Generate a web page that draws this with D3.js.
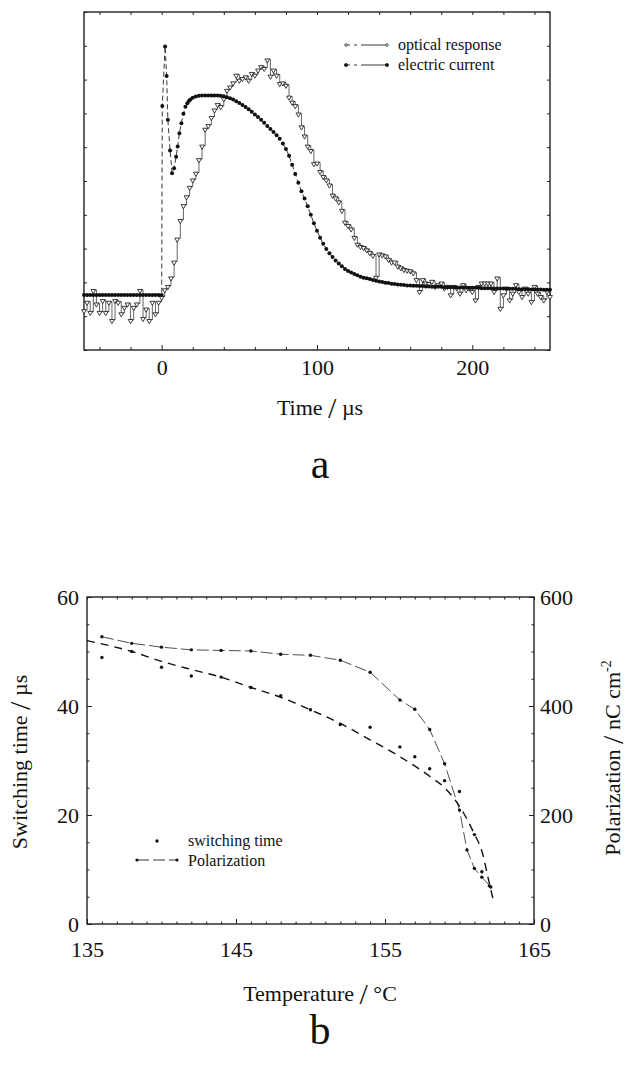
<!DOCTYPE html>
<html>
<head>
<meta charset="utf-8">
<script src="https://cdn.jsdelivr.net/npm/d3@7"></script>
<style>
body { margin: 0; background: #fff; }
text { font-family: "Liberation Serif", "DejaVu Serif", serif; fill: #111; }
</style>
</head>
<body>
<div id="chart"></div>
<script>
// ---- panel a : time response (arbitrary units) ----
var electricCurrent = [
  [-50,0.163],[-48,0.163],[-46,0.163],[-44,0.163],[-42,0.163],[-40,0.163],[-38,0.163],[-36,0.163],
  [-34,0.163],[-32,0.163],[-30,0.163],[-28,0.163],[-26,0.163],[-24,0.163],[-22,0.163],[-20,0.163],
  [-18,0.163],[-16,0.163],[-14,0.163],[-12,0.163],[-10,0.163],[-8,0.163],[-6,0.163],[-4,0.163],
  [-2,0.163],[0,0.163],[0.4,0.722],[2.2,0.898],[3.2,0.811],[4,0.681],[5.4,0.590],[6.7,0.523],
  [8,0.538],[9.3,0.572],[10.3,0.602],[11.4,0.641],[12.7,0.671],[14,0.699],[15.3,0.720],[16.5,0.730],
  [17.5,0.737],[18.5,0.741],[20,0.746],[22,0.750],[24,0.752],[26,0.753],[28,0.753],[30,0.753],
  [32,0.753],[34,0.753],[36,0.753],[38,0.752],[40,0.751],[42,0.748],[44,0.745],[46,0.741],
  [48,0.736],[50,0.731],[52,0.725],[54,0.719],[56,0.712],[58,0.705],[60,0.697],[62,0.689],
  [64,0.681],[66,0.672],[68,0.663],[70,0.654],[72,0.645],[74,0.635],[76,0.625],[78,0.611],
  [80,0.595],[82,0.575],[84,0.548],[86,0.521],[88,0.495],[90,0.470],[92,0.448],[94,0.425],
  [96,0.400],[98,0.375],[100,0.353],[102,0.332],[104,0.314],[106,0.299],[108,0.286],[110,0.275],
  [112,0.265],[114,0.256],[116,0.248],[118,0.240],[120,0.234],[122,0.229],[124,0.225],[126,0.221],
  [128,0.217],[130,0.214],[132,0.212],[134,0.210],[136,0.207],[138,0.205],[140,0.203],[142,0.201],
  [144,0.199],[146,0.198],[148,0.196],[150,0.195],[152,0.194],[154,0.193],[156,0.192],[158,0.191],
  [160,0.191],[162,0.190],[164,0.190],[166,0.189],[168,0.189],[170,0.188],[172,0.188],[174,0.187],
  [176,0.187],[178,0.187],[180,0.187],[182,0.186],[184,0.186],[186,0.186],[188,0.186],[190,0.185],
  [192,0.185],[194,0.185],[196,0.185],[198,0.184],[200,0.184],[202,0.184],[204,0.184],[206,0.183],
  [208,0.183],[210,0.183],[212,0.183],[214,0.182],[216,0.182],[218,0.182],[220,0.182],[222,0.181],
  [224,0.181],[226,0.181],[228,0.181],[230,0.180],[232,0.180],[234,0.180],[236,0.180],[238,0.179],
  [240,0.179],[242,0.179],[244,0.179],[246,0.178],[248,0.178],[250,0.178]
];

var opticalResponse = [
  [-50,0.118],[-48,0.143],[-46,0.113],[-44,0.178],[-42,0.138],[-40,0.113],[-38,0.148],[-36,0.113],
  [-34,0.143],[-32,0.089],[-30,0.148],[-28,0.143],[-26,0.109],[-24,0.128],[-22,0.138],[-20,0.089],
  [-18,0.128],[-16,0.138],[-14,0.178],[-12,0.095],[-10,0.123],[-8,0.089],[-6,0.143],[-4,0.109],
  [-2,0.143],[0,0.158],[2,0.180],[4,0.190],[6,0.215],[8,0.262],[10,0.330],[12,0.385],
  [14,0.429],[16,0.455],[18,0.483],[20,0.505],[22,0.525],[24,0.565],[26,0.605],[28,0.655],
  [30,0.666],[32,0.690],[34,0.712],[36,0.728],[38,0.722],[40,0.745],[42,0.770],[44,0.780],
  [46,0.792],[48,0.815],[50,0.800],[52,0.805],[54,0.810],[56,0.800],[58,0.820],[60,0.815],
  [62,0.830],[64,0.840],[66,0.835],[68,0.860],[70,0.812],[72,0.830],[74,0.815],[76,0.790],
  [78,0.792],[80,0.785],[82,0.750],[84,0.735],[86,0.725],[88,0.700],[90,0.662],[92,0.635],
  [94,0.605],[96,0.592],[98,0.553],[100,0.555],[102,0.530],[104,0.515],[106,0.505],[108,0.490],
  [110,0.460],[112,0.452],[114,0.440],[116,0.415],[118,0.380],[120,0.370],[122,0.360],[124,0.335],
  [126,0.315],[128,0.308],[130,0.305],[132,0.298],[134,0.290],[136,0.282],[138,0.217],[140,0.286],
  [142,0.283],[144,0.280],[146,0.270],[148,0.262],[150,0.262],[152,0.250],[154,0.245],[156,0.240],
  [158,0.238],[160,0.236],[162,0.230],[164,0.210],[166,0.175],[168,0.210],[170,0.200],[172,0.198],
  [174,0.205],[176,0.190],[178,0.195],[180,0.200],[182,0.185],[184,0.190],[186,0.165],[188,0.190],
  [190,0.185],[192,0.170],[194,0.195],[196,0.180],[198,0.185],[200,0.175],[202,0.150],[204,0.190],
  [206,0.200],[208,0.200],[210,0.200],[212,0.200],[214,0.175],[216,0.215],[218,0.125],[220,0.165],
  [222,0.185],[224,0.150],[226,0.170],[228,0.195],[230,0.175],[232,0.160],[234,0.185],[236,0.170],
  [238,0.145],[240,0.190],[242,0.170],[244,0.160],[246,0.150],[248,0.175],[250,0.160]
];

var timeTicks = [0, 100, 200];
var timeMinorTicks = [-40, -20, 20, 40, 60, 80, 120, 140, 160, 180, 220, 240];

// ---- panel b : temperature dependence ----
var polarization = [
  [136,527],[138,515],[140,508],[142,503],[144,502],[146,501],[148,495],[150,493],[152,484],
  [154,462],[156,411],[157,394],[158,357],[159,294],[160,209],[160.5,136],[161,102],[161.5,86],[162.1,68]
];
var switchingTime = [
  [136,48.9],[138,50.0],[140,47.1],[142,45.5],[144,45.3],[146,43.4],[148,41.9],[150,39.3],[152,36.6],
  [154,36.1],[156,32.5],[157,30.7],[158,28.5],[159,26.3],[160,24.3],[161,16.4],[161.5,9.6],[162,7.0]
];
var switchingFit = [
  [135,52.0],[138,50.0],[140,48.2],[142,46.7],[144,45.3],[146,43.4],[148,41.6],[150,39.3],[152,36.8],
  [154,33.8],[156,30.7],[158,27.1],[159,25.0],[160,21.6],[161,16.5],[161.5,13.4],[162,7.5],[162.3,4.0]
];
var tempTicks = [135, 145, 155, 165];
var switchTicks = [0, 20, 40, 60];
var polTicks = [0, 200, 400, 600];

var svg = d3.select("#chart").append("svg")
    .attr("width", 638)
    .attr("height", 1084);

function styleAxis(g, size) {
  g.select(".domain").remove();
  g.selectAll("line").attr("stroke", "#222");
  g.selectAll("text")
    .attr("font-family", "Liberation Serif, serif")
    .attr("font-size", size)
    .attr("fill", "#111");
}

function frame(x0, y0, x1, y1) {
  svg.append("rect")
    .attr("x", x0).attr("y", y0)
    .attr("width", x1 - x0).attr("height", y1 - y0)
    .attr("fill", "none")
    .attr("stroke", "#222")
    .attr("stroke-width", 1.4);
}

// axis title with the tall slash used in the figure
function slashTitle(sel, before, after) {
  sel.append("tspan").text(before + " ");
  sel.append("tspan").attr("font-size", 30).attr("dy", 3).text("/");
  return sel.append("tspan").attr("dy", -3).text(" " + after);
}

// =============== panel a ===============
var xA = d3.scaleLinear().domain([-50, 250]).range([84, 550]);
var yA = d3.scaleLinear().domain([0, 1]).range([350, 12]);

svg.append("g").attr("transform", "translate(0,350)")
  .call(d3.axisBottom(xA).tickValues(timeTicks).tickSize(-5).tickPadding(9).tickFormat(d3.format("d")))
  .call(styleAxis, 22);
svg.append("g").attr("transform", "translate(0,350)")
  .call(d3.axisBottom(xA).tickValues(timeMinorTicks).tickSize(-3).tickFormat(""))
  .call(styleAxis, 10);
svg.append("g").attr("transform", "translate(0,12)")
  .call(d3.axisTop(xA).tickValues(timeTicks.concat(timeMinorTicks)).tickSize(-3).tickFormat(""))
  .call(styleAxis, 10);
svg.append("g").attr("transform", "translate(84,0)")
  .call(d3.axisLeft(yA).ticks(10).tickSize(-3).tickFormat(""))
  .call(styleAxis, 10);
svg.append("g").attr("transform", "translate(550,0)")
  .call(d3.axisRight(yA).ticks(10).tickSize(-3).tickFormat(""))
  .call(styleAxis, 10);

frame(84, 12, 550, 350);

var lineA = d3.line().x(function(d){ return xA(d[0]); }).y(function(d){ return yA(d[1]); });

// optical response: thin stepped trace with small open triangles
svg.append("path")
  .datum(opticalResponse)
  .attr("d", lineA.curve(d3.curveStepAfter))
  .attr("fill", "none")
  .attr("stroke", "#222")
  .attr("stroke-width", 0.7);

var tri = d3.symbol().type(d3.symbolTriangle).size(10);
svg.append("g").selectAll("path")
  .data(opticalResponse)
  .join("path")
  .attr("d", tri)
  .attr("transform", function(d){ return "translate(" + xA(d[0]) + "," + (yA(d[1]) + 1) + ") rotate(180)"; })
  .attr("fill", "#fff")
  .attr("stroke", "#111")
  .attr("stroke-width", 0.8);

// electric current: dense filled dots
svg.append("path")
  .datum(electricCurrent)
  .attr("d", lineA.curve(d3.curveLinear))
  .attr("fill", "none")
  .attr("stroke", "#222")
  .attr("stroke-width", 0.9)
  .attr("stroke-dasharray", "5,3");

svg.append("g").selectAll("circle")
  .data(electricCurrent)
  .join("circle")
  .attr("cx", function(d){ return xA(d[0]); })
  .attr("cy", function(d){ return yA(d[1]); })
  .attr("r", 2)
  .attr("fill", "#111");

// legend a
var legA = svg.append("g").attr("transform", "translate(346,0)");
[["optical response", 50], ["electric current", 70]].forEach(function(item, i) {
  legA.append("line")
    .attr("x1", 0).attr("x2", 41).attr("y1", item[1] - 5).attr("y2", item[1] - 5)
    .attr("stroke", "#222").attr("stroke-width", 0.9)
    .attr("stroke-dasharray", "4,4,3,4,26");
  legA.append("circle").attr("cx", 0).attr("cy", item[1] - 5).attr("r", i ? 1.6 : 1.3)
    .attr("fill", i ? "#111" : "#fff").attr("stroke", "#111").attr("stroke-width", 0.7);
  legA.append("circle").attr("cx", 41).attr("cy", item[1] - 5).attr("r", i ? 1.6 : 1.3)
    .attr("fill", i ? "#111" : "#fff").attr("stroke", "#111").attr("stroke-width", 0.7);
  legA.append("text")
    .attr("x", 52).attr("y", item[1])
    .attr("font-size", 16)
    .text(item[0]);
});

slashTitle(svg.append("text")
  .attr("x", 320).attr("y", 415)
  .attr("text-anchor", "middle")
  .attr("font-size", 22), "Time", "\u00b5s");

svg.append("text")
  .attr("x", 320).attr("y", 478)
  .attr("text-anchor", "middle")
  .attr("font-size", 42)
  .text("a");

// =============== panel b ===============
var xB = d3.scaleLinear().domain([135, 165]).range([87, 534]);
var yB = d3.scaleLinear().domain([0, 60]).range([924, 597]);
var yP = d3.scaleLinear().domain([0, 600]).range([924, 597]);

svg.append("g").attr("transform", "translate(0,924)")
  .call(d3.axisBottom(xB).tickValues(tempTicks).tickSize(-5).tickPadding(17).tickFormat(d3.format("d")))
  .call(styleAxis, 22);
svg.append("g").attr("transform", "translate(0,924)")
  .call(d3.axisBottom(xB).ticks(30).tickSize(-2.5).tickFormat(""))
  .call(styleAxis, 10);
svg.append("g").attr("transform", "translate(0,597)")
  .call(d3.axisTop(xB).ticks(30).tickSize(-2.5).tickFormat(""))
  .call(styleAxis, 10);
svg.append("g").attr("transform", "translate(87,0)")
  .call(d3.axisLeft(yB).tickValues(switchTicks).tickSize(-5).tickPadding(8).tickFormat(d3.format("d")))
  .call(styleAxis, 22);
svg.append("g").attr("transform", "translate(87,0)")
  .call(d3.axisLeft(yB).ticks(12).tickSize(-2.5).tickFormat(""))
  .call(styleAxis, 10);
svg.append("g").attr("transform", "translate(534,0)")
  .call(d3.axisRight(yP).tickValues(polTicks).tickSize(-5).tickPadding(6).tickFormat(d3.format("d")))
  .call(styleAxis, 22);
svg.append("g").attr("transform", "translate(534,0)")
  .call(d3.axisRight(yP).ticks(12).tickSize(-2.5).tickFormat(""))
  .call(styleAxis, 10);

frame(87, 597, 534, 924);

// fitted switching time (heavy dashes)
svg.append("path")
  .datum(switchingFit)
  .attr("d", d3.line().curve(d3.curveMonotoneX)
    .x(function(d){ return xB(d[0]); }).y(function(d){ return yB(d[1]); }))
  .attr("fill", "none")
  .attr("stroke", "#111")
  .attr("stroke-width", 1.4)
  .attr("stroke-dasharray", "8,6");

// polarization
svg.append("path")
  .datum(polarization)
  .attr("d", d3.line()
    .x(function(d){ return xB(d[0]); }).y(function(d){ return yP(d[1]); }))
  .attr("fill", "none")
  .attr("stroke", "#222")
  .attr("stroke-width", 0.8)
  .attr("stroke-dasharray", "12,4");

svg.append("g").selectAll("circle")
  .data(polarization)
  .join("circle")
  .attr("cx", function(d){ return xB(d[0]); })
  .attr("cy", function(d){ return yP(d[1]); })
  .attr("r", 1.7)
  .attr("fill", "#111");

// switching time points
svg.append("g").selectAll("circle")
  .data(switchingTime)
  .join("circle")
  .attr("cx", function(d){ return xB(d[0]); })
  .attr("cy", function(d){ return yB(d[1]); })
  .attr("r", 1.7)
  .attr("fill", "#111");

// legend b
svg.append("circle").attr("cx", 157).attr("cy", 841).attr("r", 1.7).attr("fill", "#111");
svg.append("text").attr("x", 188).attr("y", 846).attr("font-size", 16).text("switching time");
svg.append("line")
  .attr("x1", 137).attr("x2", 177).attr("y1", 860).attr("y2", 860)
  .attr("stroke", "#222").attr("stroke-width", 0.9)
  .attr("stroke-dasharray", "12,4");
svg.append("circle").attr("cx", 137).attr("cy", 860).attr("r", 1.6).attr("fill", "#111");
svg.append("circle").attr("cx", 177).attr("cy", 860).attr("r", 1.6).attr("fill", "#111");
svg.append("text").attr("x", 188).attr("y", 866).attr("font-size", 16).text("Polarization");

slashTitle(svg.append("text")
  .attr("x", 320).attr("y", 1001)
  .attr("text-anchor", "middle")
  .attr("font-size", 22), "Temperature", "\u00b0C");

slashTitle(svg.append("text")
  .attr("transform", "translate(27,762) rotate(-90)")
  .attr("text-anchor", "middle")
  .attr("font-size", 22), "Switching time", "\u00b5s");

var rightTitle = svg.append("text")
  .attr("transform", "translate(620,758) rotate(-90)")
  .attr("text-anchor", "middle")
  .attr("font-size", 22);
slashTitle(rightTitle, "Polarization", "nC cm");
rightTitle.append("tspan").attr("font-size", 14).attr("dy", -9).text("-2");

svg.append("text")
  .attr("x", 320).attr("y", 1044)
  .attr("text-anchor", "middle")
  .attr("font-size", 42)
  .text("b");
</script>
</body>
</html>
